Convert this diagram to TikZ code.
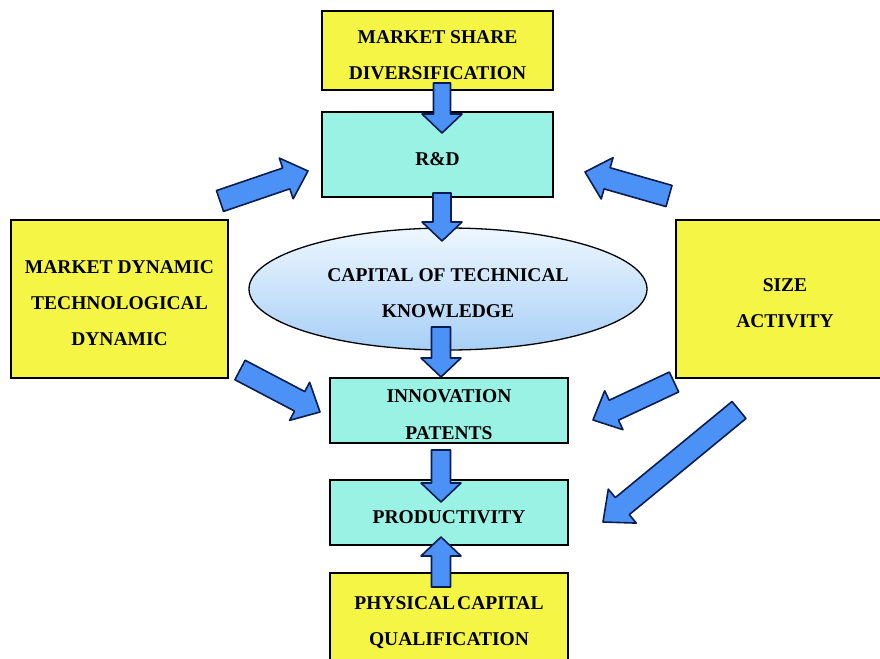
\documentclass[tikz,border=0pt]{standalone}
\usepackage{fontspec}
\setmainfont{Liberation Serif}
\usetikzlibrary{calc,shapes.geometric}

\definecolor{boxyellow}{HTML}{F5F545}
\definecolor{boxcyan}{HTML}{9AF2E4}
\definecolor{ovaltop}{HTML}{EEF7FF}
\definecolor{ovalbottom}{HTML}{A8CFF6}
\definecolor{arrowfill}{HTML}{4C92F6}
\definecolor{arrowline}{HTML}{0B1C4F}

\tikzset{
  lbl/.style={font=\bfseries\fontsize{19.5}{36}\selectfont, align=center, text=black},
  yellowbox/.style={lbl, rectangle, draw=black, line width=1.6pt, fill=boxyellow, inner sep=0pt},
  cyanbox/.style={lbl, rectangle, draw=black, line width=1.6pt, fill=boxcyan, inner sep=0pt},
  oval/.style={lbl, ellipse, draw=black, line width=1.3pt, top color=ovaltop, bottom color=ovalbottom, inner sep=0pt},
  blockarrow/.style={draw=arrowline, fill=arrowfill, line width=1.6pt, line join=round},
}

% invisible extra height on the first line, so the caps sit a little lower in the box
\newcommand\tallstrut{\rule{0pt}{21.5pt}}

% block arrow: #1 tail, #2 tip, #3 half shaft width, #4 half head width, #5 head length
\newcommand\blockarr[5]{%
  \path ($(#2)!#5!(#1)$) coordinate (bah);
  \draw[blockarrow] ($(#1)!#3!90:(#2)$) -- ($(bah)!#3!90:(#2)$) -- ($(bah)!#4!90:(#2)$)
    -- (#2) -- ($(bah)!#4!-90:(#2)$) -- ($(bah)!#3!-90:(#2)$) -- ($(#1)!#3!-90:(#2)$) -- cycle;
}

\begin{document}
\begin{tikzpicture}[x=1pt,y=-1pt]
\useasboundingbox (0,0) rectangle (880,658);
\fill[white] (0,0) rectangle (880,658);

% boxes
\node[yellowbox, minimum width=231pt, minimum height=79pt] (share) at (437.5,50.5) {\tallstrut MARKET SHARE\\DIVERSIFICATION};
\node[cyanbox, minimum width=231pt, minimum height=85pt] (rd) at (437.5,154.5) {\tallstrut R\&D};
\node[oval, minimum width=398pt, minimum height=122pt] (ctk) at (448,289) {\tallstrut CAPITAL OF TECHNICAL\\KNOWLEDGE};
\node[cyanbox, minimum width=238pt, minimum height=65pt] (innov) at (449,410.5) {\tallstrut INNOVATION\\[1pt]PATENTS};
\node[cyanbox, minimum width=238pt, minimum height=65pt] (prod) at (449,512.5) {\tallstrut PRODUCTIVITY};
\node[yellowbox, minimum width=238pt, minimum height=100pt] (phys) at (449,623) {PHYSICAL\kern2pt CAPITAL\\QUALIFICATION};
\node[yellowbox, minimum width=217pt, minimum height=158pt] (mkt) at (119.5,299) {\tallstrut MARKET DYNAMIC\\TECHNOLOGICAL\\DYNAMIC};
\node[yellowbox, minimum width=218pt, minimum height=158pt] (size) at (785,299) {\tallstrut SIZE\\ACTIVITY};

% arrow end points
\coordinate (a1t) at (442,83);  \coordinate (a1h) at (442,133);
\coordinate (a2t) at (442,193); \coordinate (a2h) at (442,241);
\coordinate (a3t) at (441,327); \coordinate (a3h) at (441,377);
\coordinate (a4t) at (441,450); \coordinate (a4h) at (441,502);
\coordinate (a5t) at (441,587); \coordinate (a5h) at (441,537);
\coordinate (d1t) at (220,201); \coordinate (d1h) at (308,171);
\coordinate (d2t) at (669,196); \coordinate (d2h) at (585,172);
\coordinate (d3t) at (240,370); \coordinate (d3h) at (320,412);
\coordinate (d4t) at (674,382); \coordinate (d4h) at (593,420);
\coordinate (d5t) at (739,410); \coordinate (d5h) at (603,522);

% vertical flow arrows
\blockarr{a1t}{a1h}{8.5pt}{20pt}{19pt}
\blockarr{a2t}{a2h}{9pt}{20pt}{19pt}
\blockarr{a3t}{a3h}{9.5pt}{20pt}{19pt}
\blockarr{a4t}{a4h}{9.5pt}{20pt}{19pt}
\blockarr{a5t}{a5h}{9.5pt}{20pt}{19pt}

% diagonal influence arrows
\blockarr{d1t}{d1h}{11pt}{21.5pt}{23pt}
\blockarr{d2t}{d2h}{11pt}{21.5pt}{23pt}
\blockarr{d3t}{d3h}{11pt}{21.5pt}{23pt}
\blockarr{d4t}{d4h}{11pt}{21.5pt}{23pt}
\blockarr{d5t}{d5h}{11pt}{22pt}{25pt}
\end{tikzpicture}
\end{document}
